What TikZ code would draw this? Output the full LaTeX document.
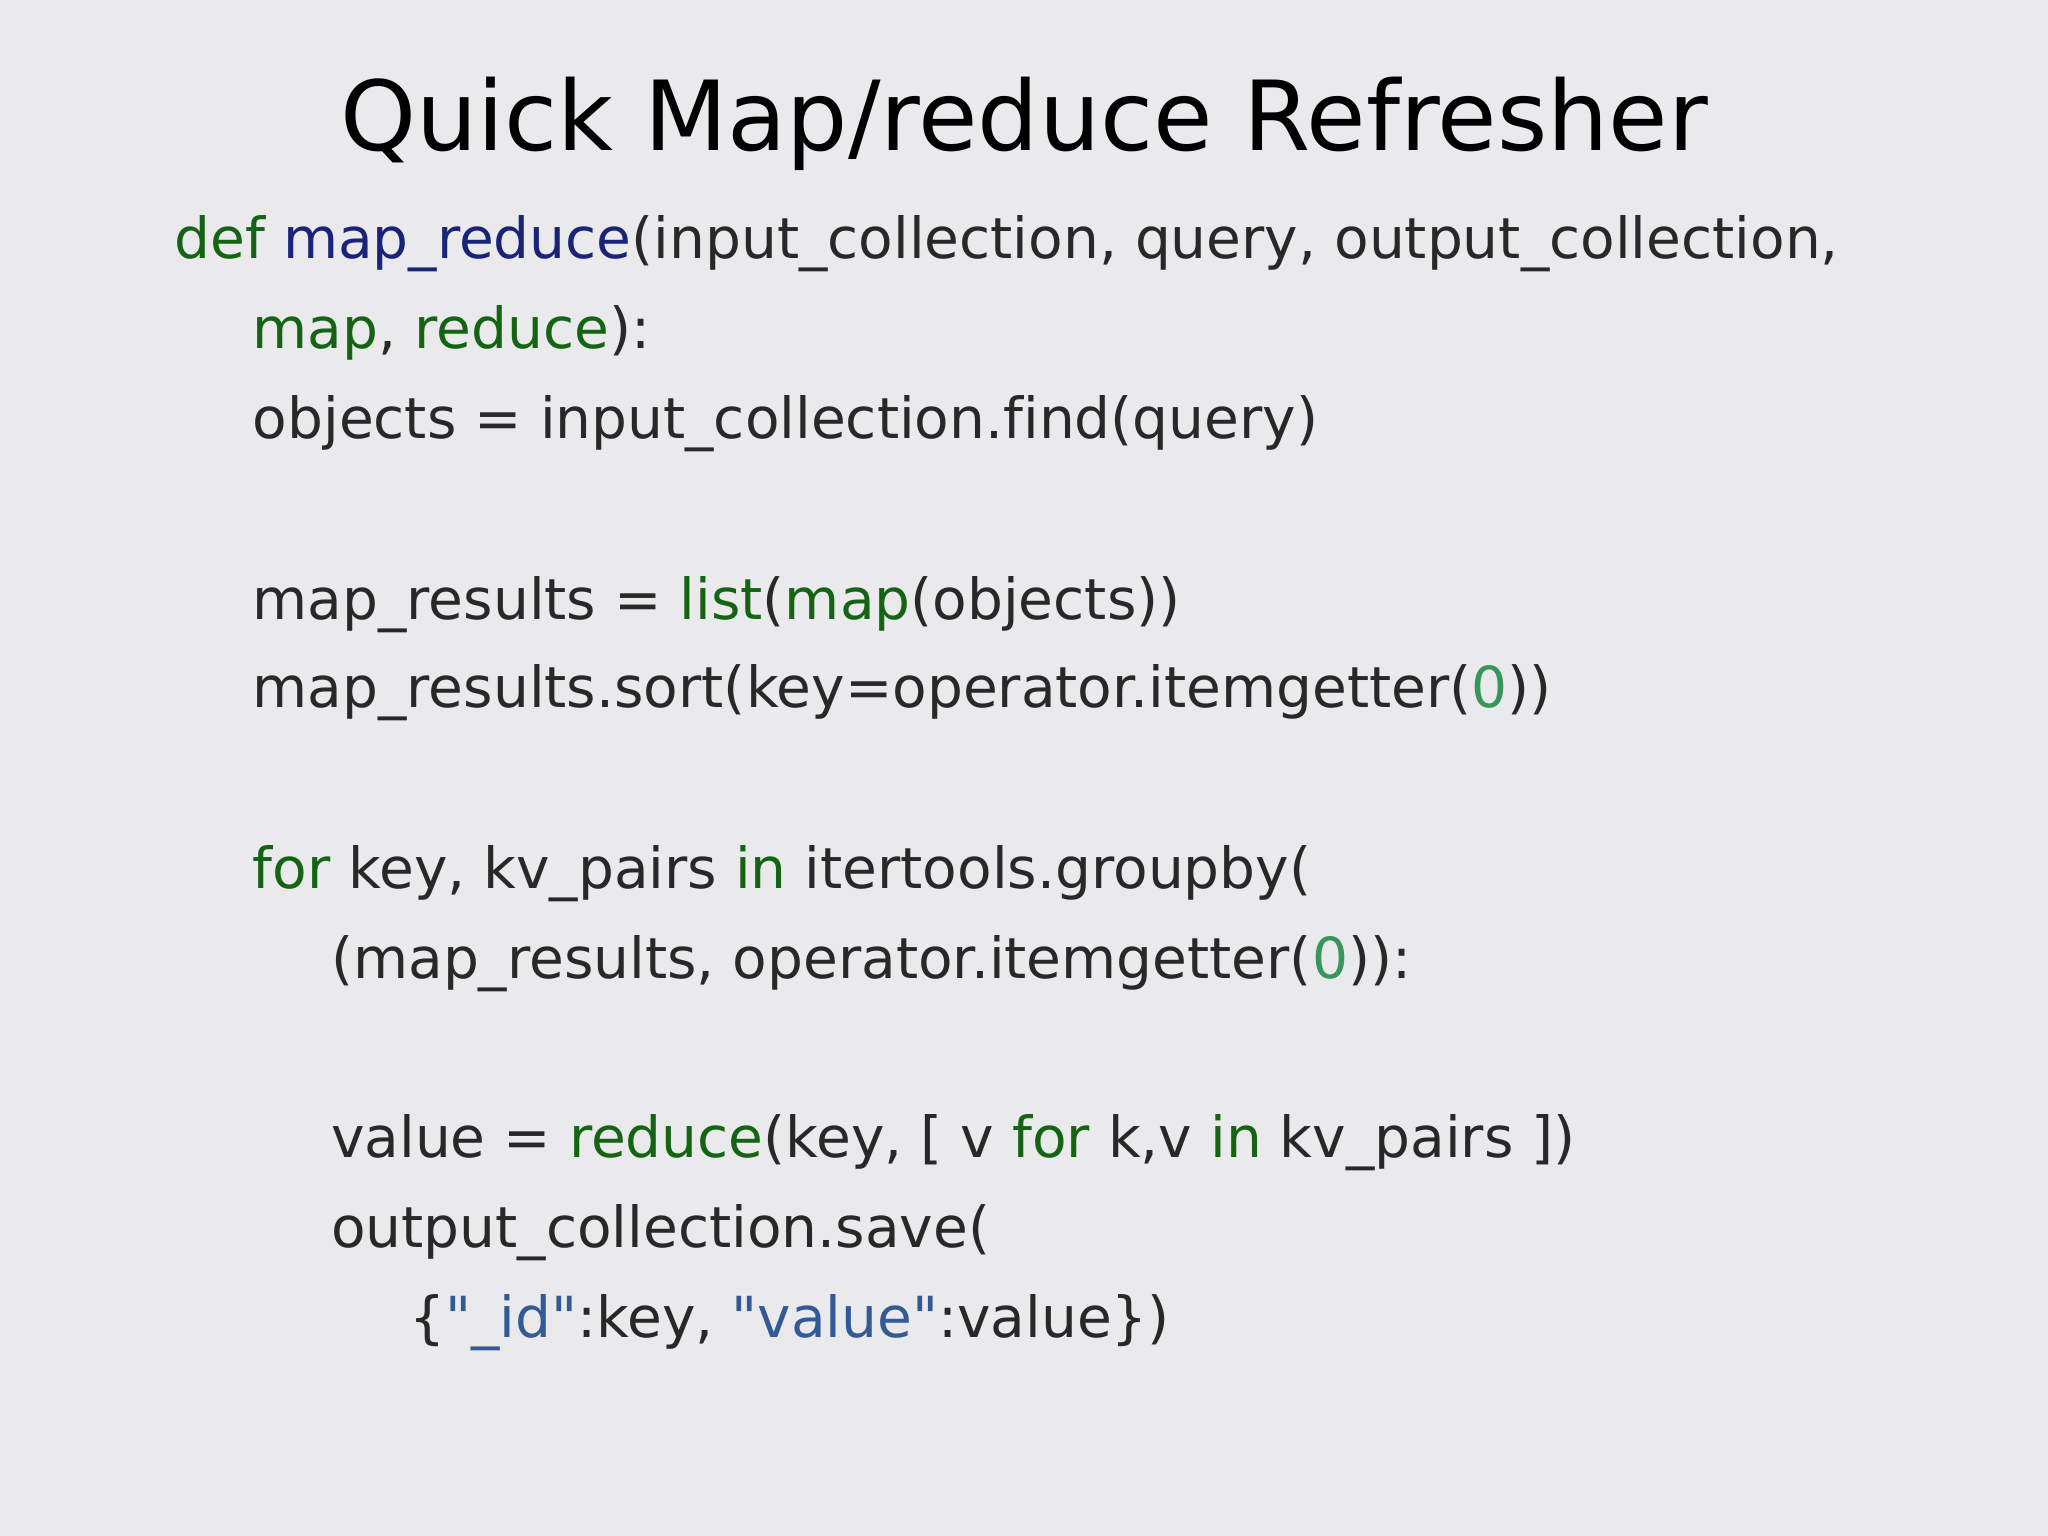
\documentclass[tikz,border=0pt]{standalone}
\usepackage{fontspec}
\setmainfont[Ligatures={NoCommon}]{DejaVu Sans}
\definecolor{bg}{RGB}{234,234,237}
\definecolor{kw}{RGB}{20,100,20}
\definecolor{fn}{RGB}{25,35,120}
\definecolor{num}{RGB}{55,150,90}
\definecolor{str}{RGB}{50,90,150}
\definecolor{txt}{RGB}{40,40,40}
\newcommand{\K}[1]{\textcolor{kw}{#1}}
\newcommand{\Q}{\textquotedbl}
\begin{document}
\begin{tikzpicture}[x=0.01306cm,y=-0.01306cm,
  code/.style={anchor=base west,inner sep=0pt,font=\fontsize{16.1}{20}\selectfont,text=txt}]
\fill[bg] (0,0) rectangle (1568,1176);
\node[anchor=base,inner sep=0pt,font=\fontsize{27.5}{33}\selectfont] (title) at (784,115) {Quick Map/reduce Refresher};
\node[code] (l1) at (133,198) {\K{def} \textcolor{fn}{map\_reduce}(input\_collection, query, output\_collection,};
\node[code] (l2) at (193,267) {\K{map}, \K{reduce}):};
\node[code] (l3) at (193,336) {objects = input\_collection.find(query)};
\node[code] (l4) at (193,474) {map\_results = \K{list}(\K{map}(objects))};
\node[code] (l5) at (193,542) {map\_results.sort(key=operator.itemgetter(\textcolor{num}{0}))};
\node[code] (l6) at (193,680) {\K{for} key, kv\_pairs \K{in} itertools.groupby(};
\node[code] (l7) at (253,749) {(map\_results, operator.itemgetter(\textcolor{num}{0})):};
\node[code] (l8) at (253,886) {value = \K{reduce}(key, [ v \K{for} k,v \K{in} kv\_pairs ])};
\node[code] (l9) at (253,955) {output\_collection.save(};
\node[code] (l10) at (313,1024) {\{\textcolor{str}{\Q\_id\Q}:key, \textcolor{str}{\Q value\Q}:value\})};
\end{tikzpicture}
\end{document}
